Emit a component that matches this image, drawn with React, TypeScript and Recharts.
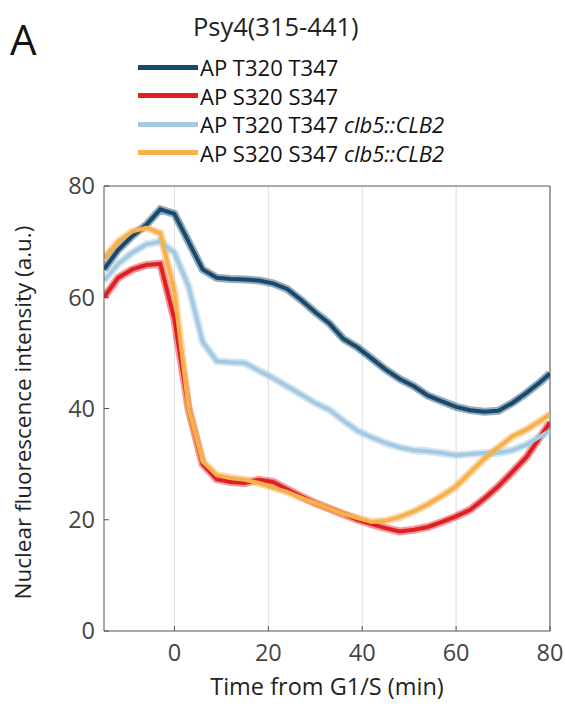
import { CartesianGrid, Line, LineChart, ReferenceLine, XAxis, YAxis } from 'recharts';

const times = [-15, -12, -9, -6, -3, 0, 3, 6, 9, 12, 15, 18, 21, 24, 27, 30, 33, 36, 39, 42, 45, 48, 51, 54, 57, 60, 63, 66, 69, 72, 75, 78, 80];

const apT = [65, 68.5, 71, 73, 75.8, 75, 70, 65, 63.5, 63.3, 63.2, 63, 62.5, 61.5, 59.5, 57.3, 55.3, 52.5, 51, 49, 47, 45.3, 44, 42.3, 41.3, 40.3, 39.7, 39.4, 39.6, 41, 42.8, 44.8, 46.3];
const apS = [60, 63.5, 65, 65.8, 66, 56, 40, 30, 27.3, 26.8, 26.6, 27.2, 26.8, 25.5, 24.2, 23, 22, 21, 20, 19.2, 18.5, 17.9, 18.2, 18.7, 19.6, 20.6, 21.8, 23.8, 26, 28.6, 31.3, 35, 37.5];
const apTClb = [63, 66, 68, 69.5, 70, 68, 62, 52, 48.5, 48.3, 48.2, 46.8, 45.5, 44, 42.5, 41, 39.8, 37.8, 36, 34.8, 33.8, 33, 32.5, 32.3, 32, 31.6, 31.8, 32, 32, 32.5, 33.5, 35, 36];
const apSClb = [67, 70, 71.8, 72.5, 71.5, 61, 40, 30.5, 28, 27.5, 27.2, 26.6, 25.8, 25, 24, 23, 22, 21, 20.3, 19.6, 19.8, 20.5, 21.5, 22.8, 24.3, 26, 28.5, 31, 33, 35, 36.2, 37.8, 39];

const xTicks = [0, 20, 40, 60, 80];
const yTicks = [0, 20, 40, 60, 80];

const series = [
  { key: 'apT', name: 'AP T320 T347', italic: '', color: '#174a6d' },
  { key: 'apS', name: 'AP S320 S347', italic: '', color: '#df1f24' },
  { key: 'apTClb', name: 'AP T320 T347 ', italic: 'clb5::CLB2', color: '#a3cae2' },
  { key: 'apSClb', name: 'AP S320 S347 ', italic: 'clb5::CLB2', color: '#f7b04e' },
];

const data = times.map((t, i) => ({
  t,
  apT: apT[i],
  apS: apS[i],
  apTClb: apTClb[i],
  apSClb: apSClb[i],
}));

const font = '"Open Sans", sans-serif';

// rotated y label, centred on the plot height
const YLabel = ({ viewBox }: any) => {
  const cy = viewBox.y + viewBox.height / 2 + 4;
  return (
    <text
      x={22}
      y={cy}
      transform={`rotate(-90 22 ${cy})`}
      textAnchor="middle"
      dominantBaseline="central"
      fill="#222"
      fontSize={22.5}
      fontFamily={font}
    >
      Nuclear fluorescence intensity (a.u.)
    </text>
  );
};

export default function App() {
  return (
    <div style={{ position: 'absolute', left: 0, top: 0, width: 565, height: 706, background: '#fff', fontFamily: font }}>
      <div style={{ position: 'absolute', left: 10, top: 18, fontSize: 42, color: '#111', lineHeight: 1 }}>A</div>
      <div style={{ position: 'absolute', left: 193, top: 10, fontSize: 25.5, color: '#222', lineHeight: '32px' }}>
        Psy4(315-441)
      </div>
      <div style={{ position: 'absolute', left: 138, top: 53 }}>
        {series.map((s) => (
          <div key={s.key} style={{ display: 'flex', alignItems: 'center', height: 28.5, fontSize: 22, color: '#111' }}>
            <div style={{ width: 60, height: 5, background: s.color, marginRight: 2 }} />
            <span>
              {s.name}
              {s.italic && <i>{s.italic}</i>}
            </span>
          </div>
        ))}
      </div>
      <LineChart
        width={565}
        height={706}
        data={data}
        margin={{ top: 186, right: 15, bottom: 45, left: 54 }}
      >
        <CartesianGrid horizontal={false} stroke="#dcdcdc" verticalValues={xTicks} />
        <XAxis
          dataKey="t"
          type="number"
          domain={[-15, 80]}
          ticks={xTicks}
          height={30}
          tickSize={-5}
          tickMargin={18}
          allowDataOverflow
          stroke="#555"
          tick={{ fill: '#444', fontSize: 23.5, fontFamily: font }}
          label={{ value: 'Time from G1/S (min)', position: 'bottom', offset: 17, fill: '#222', fontSize: 23.5, fontFamily: font }}
        />
        <YAxis
          type="number"
          domain={[0, 80]}
          ticks={yTicks}
          width={50}
          tickSize={-5}
          tickMargin={14}
          stroke="#555"
          tick={{ fill: '#444', fontSize: 23.5, fontFamily: font }}
          label={<YLabel />}
        />
        <ReferenceLine y={80} stroke="#555" />
        <ReferenceLine x={80} stroke="#555" />
        {series.map((s) => (
          <Line
            key={s.key + '-band'}
            dataKey={s.key}
            stroke={s.color}
            strokeOpacity={0.45}
            strokeWidth={8}
            dot={false}
            activeDot={false}
            isAnimationActive={false}
            legendType="none"
          />
        ))}
        {series.map((s) => (
          <Line
            key={s.key}
            dataKey={s.key}
            name={s.name}
            stroke={s.color}
            strokeWidth={4}
            dot={false}
            activeDot={false}
            isAnimationActive={false}
          />
        ))}
      </LineChart>
    </div>
  );
}
